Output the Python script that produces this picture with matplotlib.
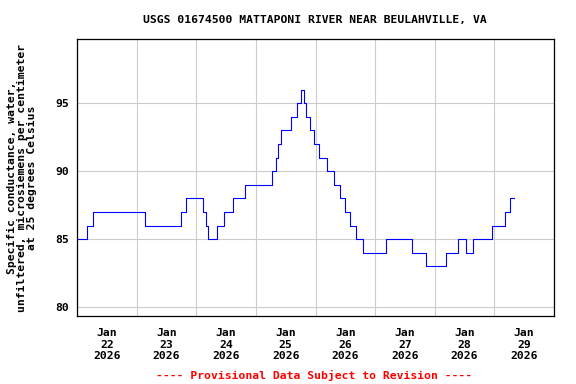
#!/usr/bin/env python3
"""USGS specific conductance plot - Mattaponi River near Beulahville, VA"""

import matplotlib
matplotlib.use("Agg")
import matplotlib.pyplot as plt
import matplotlib.dates as mdates
import pandas as pd

# hours after 2026-01-22 00:00 where the reading changes, and the new reading
change_hours = [0, 3.9, 6.3, 27.2, 41.7, 43.8, 50.9, 51.9, 52.9, 56.3, 59.0,
                62.6, 67.5, 78.3, 79.9, 80.8, 82.3, 86.3, 88.4, 90.0, 91.3,
                92.3, 93.9, 95.2, 97.4, 100.8, 103.6, 105.7, 108.0, 110.0,
                112.2, 115.0, 124.2, 135.0, 140.6, 148.7, 153.2, 156.7, 159.2,
                167.2, 172.3, 174.3]
conductance = [85, 86, 87, 86, 87, 88, 87, 86, 85, 86, 87,
               88, 89, 90, 91, 92, 93, 94, 95, 96, 95,
               94, 93, 92, 91, 90, 89, 88, 87, 86,
               85, 84, 85, 84, 83, 84, 85, 84, 85,
               86, 87, 88]
last_hour = 175.8

y_ticks = [80, 85, 90, 95]
title = "USGS 01674500 MATTAPONI RIVER NEAR BEULAHVILLE, VA"
y_label = ("Specific conductance, water,\n"
           "unfiltered, microsiemens per centimeter\n"
           "at 25 degrees Celsius")
footer = "---- Provisional Data Subject to Revision ----"

start = pd.Timestamp("2026-01-22")
times = [start + pd.Timedelta(hours=h) for h in change_hours]
times.append(start + pd.Timedelta(hours=last_hour))
values = conductance + [conductance[-1]]

font = dict(family="DejaVu Sans Mono", weight="bold", size=8.2)

fig = plt.figure(figsize=(5.76, 3.84), dpi=100)
ax = fig.add_axes([77 / 576, 1 - 316 / 384, 477 / 576, 276.7 / 384])

ax.step(times, values, where="post", color="#0000ff", linewidth=0.8)

ax.set_xlim(start, start + pd.Timedelta(days=8))
ax.set_ylim(79.36, 99.7)

# labels at noon, grid at midnight
ax.xaxis.set_major_locator(mdates.HourLocator(byhour=[12]))
ax.xaxis.set_major_formatter(mdates.DateFormatter("%b\n%d\n%Y"))
ax.xaxis.set_minor_locator(mdates.DayLocator())
ax.set_yticks(y_ticks)

ax.grid(which="minor", axis="x", color="#cccccc", linewidth=0.8)
ax.grid(which="major", axis="y", color="#cccccc", linewidth=0.8)
ax.set_axisbelow(True)

ax.tick_params(axis="both", which="both", length=0)
ax.tick_params(axis="x", pad=9)
ax.tick_params(axis="y", pad=6)
for lbl in ax.get_xticklabels() + ax.get_yticklabels():
    lbl.set_fontfamily(font["family"])
    lbl.set_fontweight("bold")
    lbl.set_fontsize(font["size"])
    lbl.set_linespacing(1.15)

for sp in ax.spines.values():
    sp.set_linewidth(0.9)
    sp.set_color("black")

fig.text(314.5 / 576, 1 - 20 / 384, title, ha="center", va="center", **font)
fig.text(22 / 576, 1 - 177.5 / 384, y_label, ha="center", va="center",
         rotation=90, multialignment="center", linespacing=1.05, **font)
fig.text(314 / 576, 1 - 375 / 384, footer, ha="center", va="center",
         color="red", **font)

fig.savefig("out.png", dpi=100)
